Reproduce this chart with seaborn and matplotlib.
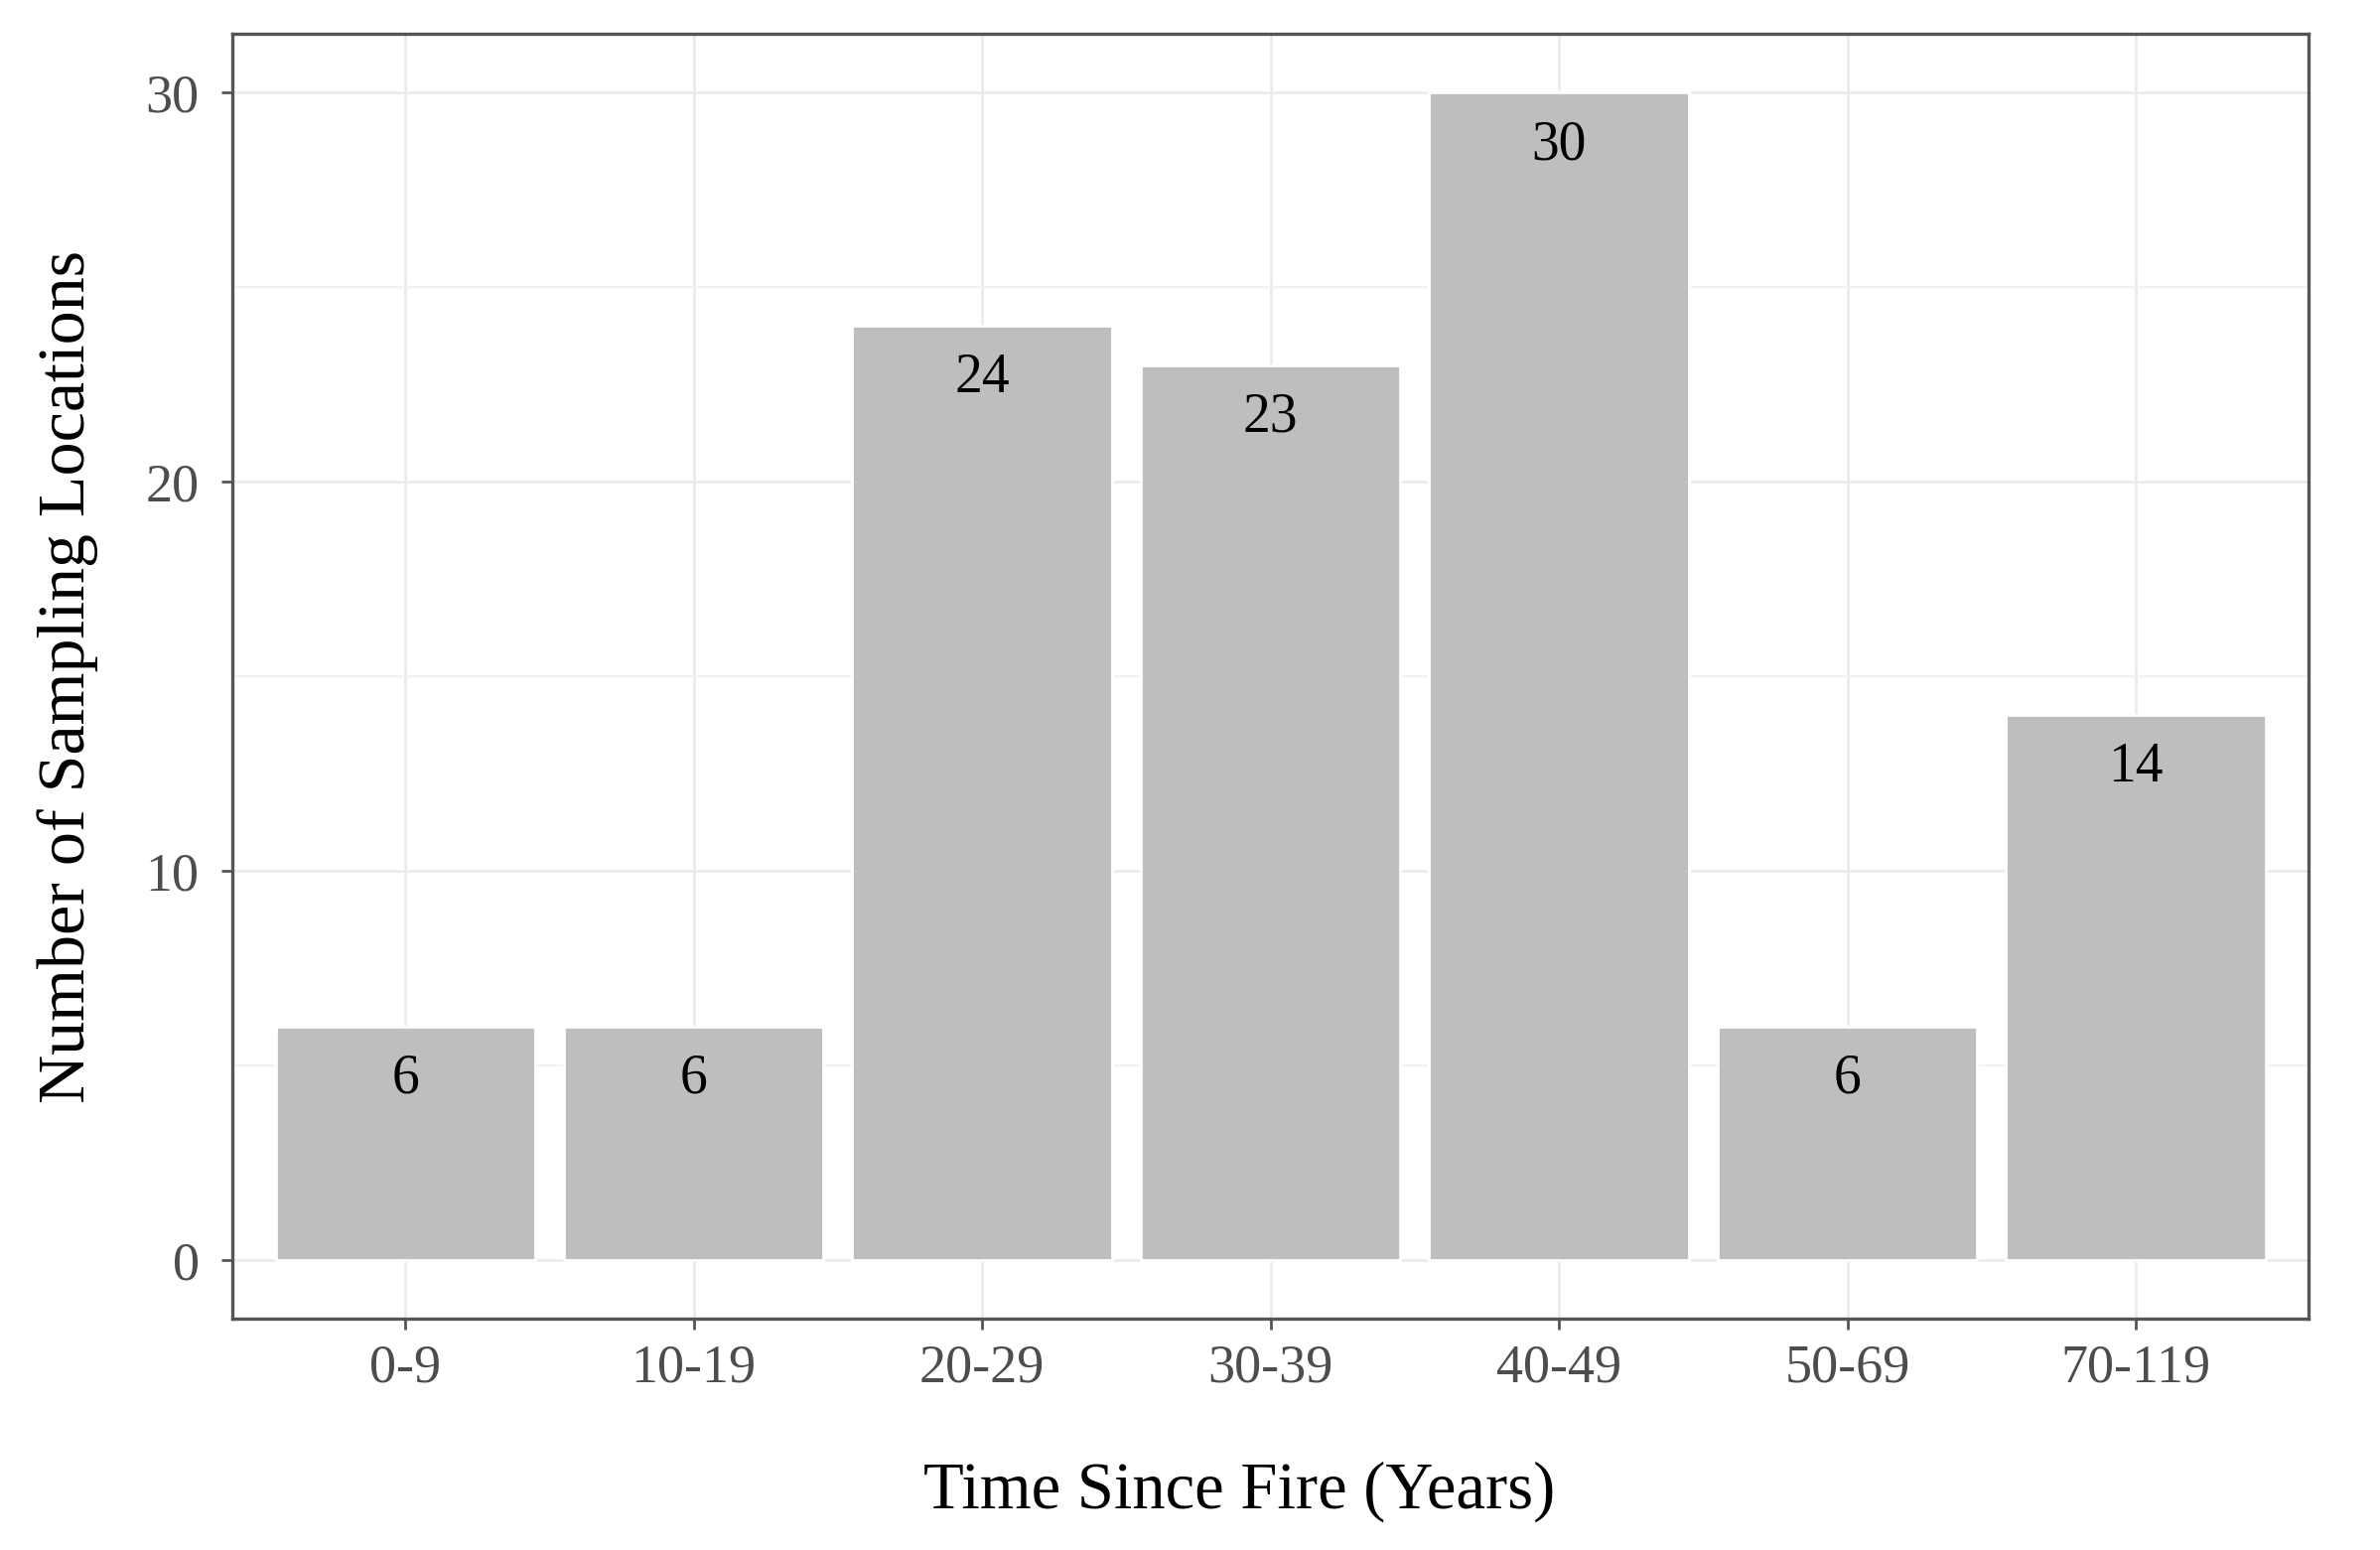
import pandas as pd
import matplotlib.pyplot as plt
import seaborn as sns
from matplotlib.ticker import MultipleLocator

age_classes = ['0-9', '10-19', '20-29', '30-39', '40-49', '50-69', '70-119']
site_counts = [6, 6, 24, 23, 30, 6, 14]

df = pd.DataFrame({'age_class': age_classes, 'sites': site_counts})

sns.set_theme(style='white')
plt.rcParams['font.family'] = ['Liberation Serif', 'DejaVu Serif']

fig = plt.figure(figsize=(11.985, 7.805), dpi=200)
ax = fig.add_axes([0.0976, 0.1494, 0.8725, 0.8286])

sns.barplot(data=df, x='age_class', y='sites', color='#bebebe', saturation=1,
            width=0.9, ax=ax, zorder=2)

# value labels just under the top of each bar
for i, v in enumerate(df['sites']):
    ax.text(i, v - 1.35, str(v), ha='center', va='center', fontsize=20, color='black', zorder=3)

ax.set_xlim(-0.6, len(age_classes) - 0.4)
ax.set_ylim(-1.5, 31.5)
ax.yaxis.set_major_locator(MultipleLocator(10))
ax.yaxis.set_minor_locator(MultipleLocator(5))

ax.grid(which='major', axis='both', color='#ebebeb', linewidth=1.0, zorder=0)
ax.grid(which='minor', axis='y', color='#f2f2f2', linewidth=0.8, zorder=0)
ax.set_axisbelow(True)

for s in ax.spines.values():
    s.set_visible(True)
    s.set_color('#555555')
    s.set_linewidth(1.2)

ax.tick_params(axis='both', which='major', length=4, width=1, color='#555555',
               labelsize=19.5, labelcolor='#4d4d4d', bottom=True, left=True)
ax.tick_params(axis='x', pad=5)
ax.tick_params(axis='y', pad=8)
ax.tick_params(axis='y', which='minor', length=0)

ax.set_xlabel('Time Since Fire (Years)', fontsize=24, color='black', labelpad=24.5)
ax.xaxis.label.set_x(0.485)
ax.set_ylabel('Number of Sampling Locations', fontsize=24.5, color='black', labelpad=17)

fig.savefig('out.png', dpi=200)
